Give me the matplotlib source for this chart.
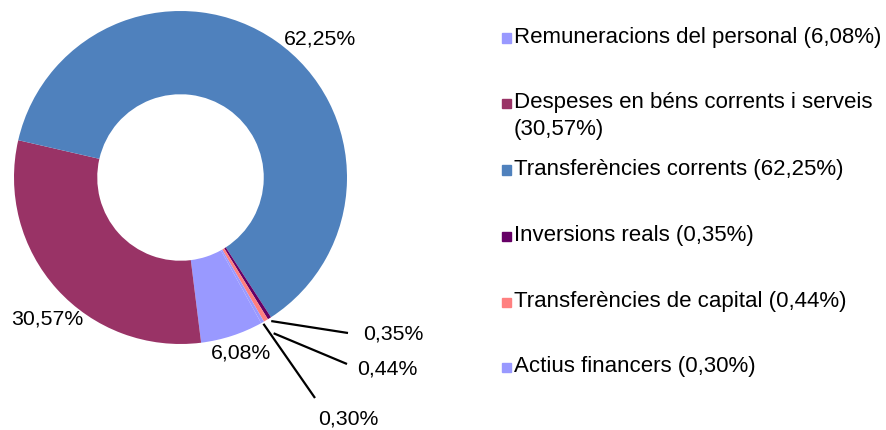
import matplotlib
matplotlib.use('Agg')
import matplotlib.pyplot as plt
import numpy as np
from matplotlib.patches import Rectangle

plt.rcParams['font.family'] = ['Liberation Sans', 'DejaVu Sans']

categories = ['Remuneracions del personal', 'Despeses en béns corrents i serveis',
              'Transferències corrents', 'Inversions reals',
              'Transferències de capital', 'Actius financers']
values = [6.08, 30.57, 62.25, 0.35, 0.44, 0.30]
value_labels = ['6,08%', '30,57%', '62,25%', '0,35%', '0,44%', '0,30%']
legend_labels = ['Remuneracions del personal (6,08%)',
                 'Despeses en béns corrents i serveis\n(30,57%)',
                 'Transferències corrents (62,25%)',
                 'Inversions reals (0,35%)',
                 'Transferències de capital (0,44%)',
                 'Actius financers (0,30%)']
colors = ['#9999FF', '#993366', '#4F81BD', '#660066', '#FF8080', '#9999FF']

W, H = 887, 430
fig = plt.figure(figsize=(W / 100, H / 100), dpi=100)

# centre and radius of the donut, in pixels from the top-left corner
cx, cy, R = 180.5, 177.5, 166.5
ax = fig.add_axes([(cx - R) / W, (H - cy - R) / H, 2 * R / W, 2 * R / H])
wedges, _ = ax.pie(values, colors=colors, startangle=-61, counterclock=False,
                   radius=1, wedgeprops=dict(width=0.5, linewidth=0))
ax.set_xlim(-1, 1)
ax.set_ylim(-1, 1)
ax.set_aspect('equal')
ax.axis('off')


def px(x, y):
    # pixel position (from top-left) -> data coords of the pie axes
    return (x - cx) / R, (cy - y) / R


fs_lab = 15.3
fs_leg = 16
# data labels outside the ring: (left x, centre y) in pixels
label_pos = [(211, 353), (11, 319), (284, 39), (363, 334), (357, 369), (318, 419)]
# leader lines of the small slices: start radius, end point in pixels
leaders = {3: (1.02, (348, 333)), 4: (1.09, (347, 364)), 5: (1.01, (315, 398))}

for i, w in enumerate(wedges):
    tx, ty = px(*label_pos[i])
    ax.text(tx, ty, value_labels[i], ha='left', va='center', fontsize=fs_lab, color='black')
    if i in leaders:
        rs, (ex, ey) = leaders[i]
        ang = np.deg2rad((w.theta1 + w.theta2) / 2)
        x1, y1 = px(ex, ey)
        ax.plot([rs * np.cos(ang), x1], [rs * np.sin(ang), y1], color='black', lw=1.6,
                clip_on=False, solid_capstyle='butt')

# legend on the right, drawn by hand (centre y of the first line of each entry)
legend_y = [38, 103, 170, 236, 302, 367]
for lab, col, y in zip(legend_labels, colors, legend_y):
    fig.patches.append(Rectangle((502 / W, (H - y - 5) / H), 9.5 / W, 9.5 / H,
                                 transform=fig.transFigure, color=col))
    fig.text(514 / W, (H - y + 11) / H, lab, ha='left', va='top',
             fontsize=fs_leg, linespacing=1.35)

plt.savefig('out.png', dpi=100)
